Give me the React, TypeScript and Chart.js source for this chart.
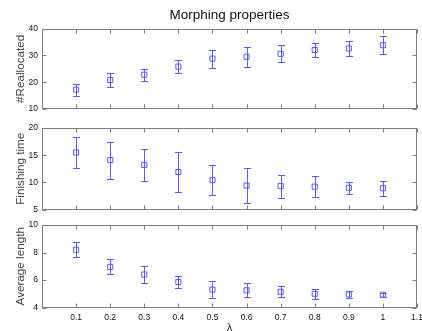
import React, { useEffect, useRef } from 'react';
import { Chart, registerables } from 'chart.js';

Chart.register(...registerables);

const lambdas = [0.1, 0.2, 0.3, 0.4, 0.5, 0.6, 0.7, 0.8, 0.9, 1.0];
const xTicks = [0.1, 0.2, 0.3, 0.4, 0.5, 0.6, 0.7, 0.8, 0.9, 1.0, 1.1];

const reallocated = [17.2, 20.8, 22.8, 25.8, 28.8, 29.5, 30.6, 32.0, 32.6, 33.8];
const reallocatedErr = [2.2, 2.5, 2.2, 2.5, 3.4, 3.8, 3.2, 2.5, 2.7, 3.3];

const finishing = [15.5, 14.1, 13.2, 11.9, 10.4, 9.4, 9.3, 9.2, 9.0, 8.9];
const finishingErr = [2.9, 3.4, 3.0, 3.6, 2.7, 3.2, 2.1, 1.9, 1.1, 1.4];

const avgLength = [8.2, 6.95, 6.4, 5.85, 5.3, 5.25, 5.15, 5.0, 4.95, 4.93];
const avgLengthErr = [0.55, 0.55, 0.6, 0.45, 0.6, 0.5, 0.4, 0.35, 0.25, 0.15];

const FONT = "'Liberation Sans', Arial, Helvetica, sans-serif";
const BLUE = '#5a5aff';
const AXIS = '#7c7c7c';

type PanelProps = {
  top: number;
  height: number;
  values: number[];
  errors: number[];
  yMin: number;
  yMax: number;
  yStep: number;
  yLabel: string;
  padTop: number;
  padBottom: number;
  showX: boolean;
  title?: string;
};

function Panel(props: PanelProps) {
  const ref = useRef<HTMLCanvasElement | null>(null);
  useEffect(() => {
    const canvas = ref.current;
    if (!canvas) return;
    const { values, errors } = props;

    const boxPlugin = {
      id: 'matlabBox',
      afterDraw(chart: any) {
        const { ctx, chartArea: a, scales } = chart;
        ctx.save();
        ctx.strokeStyle = AXIS;
        ctx.lineWidth = 1;
        const L = Math.round(a.left) + 0.5;
        const R = Math.round(a.right) - 0.5;
        const T = Math.round(a.top) + 0.5;
        const B = Math.round(a.bottom) - 0.5;
        ctx.strokeRect(L, T, R - L, B - T);
        ctx.beginPath();
        xTicks.forEach((v) => {
          const x = Math.round(scales.x.getPixelForValue(v)) + 0.5;
          ctx.moveTo(x, T);
          ctx.lineTo(x, T + 4);
          ctx.moveTo(x, B);
          ctx.lineTo(x, B - 4);
        });
        scales.y.ticks.forEach((t: any) => {
          const y = Math.round(scales.y.getPixelForValue(t.value)) + 0.5;
          ctx.moveTo(L, y);
          ctx.lineTo(L + 4, y);
          ctx.moveTo(R, y);
          ctx.lineTo(R - 4, y);
        });
        ctx.stroke();
        ctx.restore();
      },
    };

    const errPlugin = {
      id: 'errorBars',
      afterDatasetsDraw(chart: any) {
        const { ctx, scales } = chart;
        ctx.save();
        ctx.strokeStyle = BLUE;
        ctx.lineWidth = 1;
        ctx.beginPath();
        lambdas.forEach((lx, i) => {
          const x = Math.round(scales.x.getPixelForValue(lx)) + 0.5;
          const y1 = Math.round(scales.y.getPixelForValue(values[i] + errors[i])) + 0.5;
          const y2 = Math.round(scales.y.getPixelForValue(values[i] - errors[i])) + 0.5;
          ctx.moveTo(x, y1);
          ctx.lineTo(x, y2);
          ctx.moveTo(x - 3.5, y1);
          ctx.lineTo(x + 3.5, y1);
          ctx.moveTo(x - 3.5, y2);
          ctx.lineTo(x + 3.5, y2);
        });
        ctx.stroke();
        ctx.restore();
      },
    };

    const chart = new Chart(canvas, {
      type: 'scatter',
      data: {
        datasets: [
          {
            data: lambdas.map((x, i) => ({ x, y: values[i] })),
            pointStyle: 'rect',
            pointRadius: 3.6,
            pointBorderWidth: 1,
            borderColor: BLUE,
            backgroundColor: 'rgba(0,0,0,0)',
            showLine: false,
          },
        ],
      },
      options: {
        animation: false,
        responsive: false,
        events: [],
        layout: {
          autoPadding: false,
          padding: { left: 0, right: 5, top: props.padTop, bottom: props.padBottom },
        },
        plugins: {
          legend: { display: false },
          tooltip: { enabled: false },
          title: props.title
            ? {
                display: true,
                text: props.title,
                fullSize: false,
                color: '#111',
                font: { family: FONT, size: 13.5, weight: 'normal' },
                padding: { top: 7, bottom: 5.4 },
              }
            : { display: false },
        },
        scales: {
          x: {
            type: 'linear',
            min: 0,
            max: 1.1,
            display: props.showX,
            grid: { display: false, drawTicks: false },
            border: { display: false },
            ticks: {
              stepSize: 0.1,
              color: '#111',
              padding: 5,
              font: { family: FONT, size: 8.5 },
              callback: (v: any) => (Number(v) === 0 ? '' : String(Math.round(Number(v) * 10) / 10)),
            },
            title: {
              display: props.showX,
              text: 'λ',
              color: '#222',
              font: { family: FONT, size: 11, lineHeight: 1 },
              padding: { top: 0, bottom: -2 },
            },
            afterFit: (s: any) => {
              s.height = props.showX ? 23.5 : 0;
              s.paddingLeft = 0;
              s.paddingRight = 0;
            },
          },
          y: {
            type: 'linear',
            min: props.yMin,
            max: props.yMax,
            grid: { display: false, drawTicks: false },
            border: { display: false },
            ticks: {
              stepSize: props.yStep,
              color: '#111',
              padding: 4,
              font: { family: FONT, size: 8.5 },
            },
            title: {
              display: true,
              text: props.yLabel,
              color: '#444',
              font: { family: FONT, size: 11.7 },
              padding: { top: 13.5, bottom: 0 },
            },
            afterFit: (s: any) => {
              s.width = 42;
              s.paddingTop = 0;
              s.paddingBottom = 0;
            },
          },
        },
      },
      plugins: [boxPlugin, errPlugin],
    } as any);
    return () => chart.destroy();
  }, []);
  return (
    <canvas
      ref={ref}
      width={422}
      height={props.height}
      style={{ position: 'absolute', left: 0, top: props.top, width: 422, height: props.height }}
    />
  );
}

export default function App() {
  return (
    <div
      style={{
        position: 'fixed',
        left: 0,
        top: 0,
        width: 422,
        height: 331,
        overflow: 'hidden',
        background: '#fff',
      }}
    >
      <Panel
        top={0}
        height={112}
        values={reallocated}
        errors={reallocatedErr}
        yMin={10}
        yMax={40}
        yStep={10}
        yLabel="#Reallocated"
        padTop={0}
        padBottom={3}
        showX={false}
        title="Morphing properties"
      />
      <Panel
        top={112}
        height={100}
        values={finishing}
        errors={finishingErr}
        yMin={5}
        yMax={20}
        yStep={5}
        yLabel="Finishing time"
        padTop={16}
        padBottom={2.5}
        showX={false}
      />
      <Panel
        top={212}
        height={119}
        values={avgLength}
        errors={avgLengthErr}
        yMin={4}
        yMax={10}
        yStep={2}
        yLabel="Average length"
        padTop={13}
        padBottom={0}
        showX={true}
      />
    </div>
  );
}
